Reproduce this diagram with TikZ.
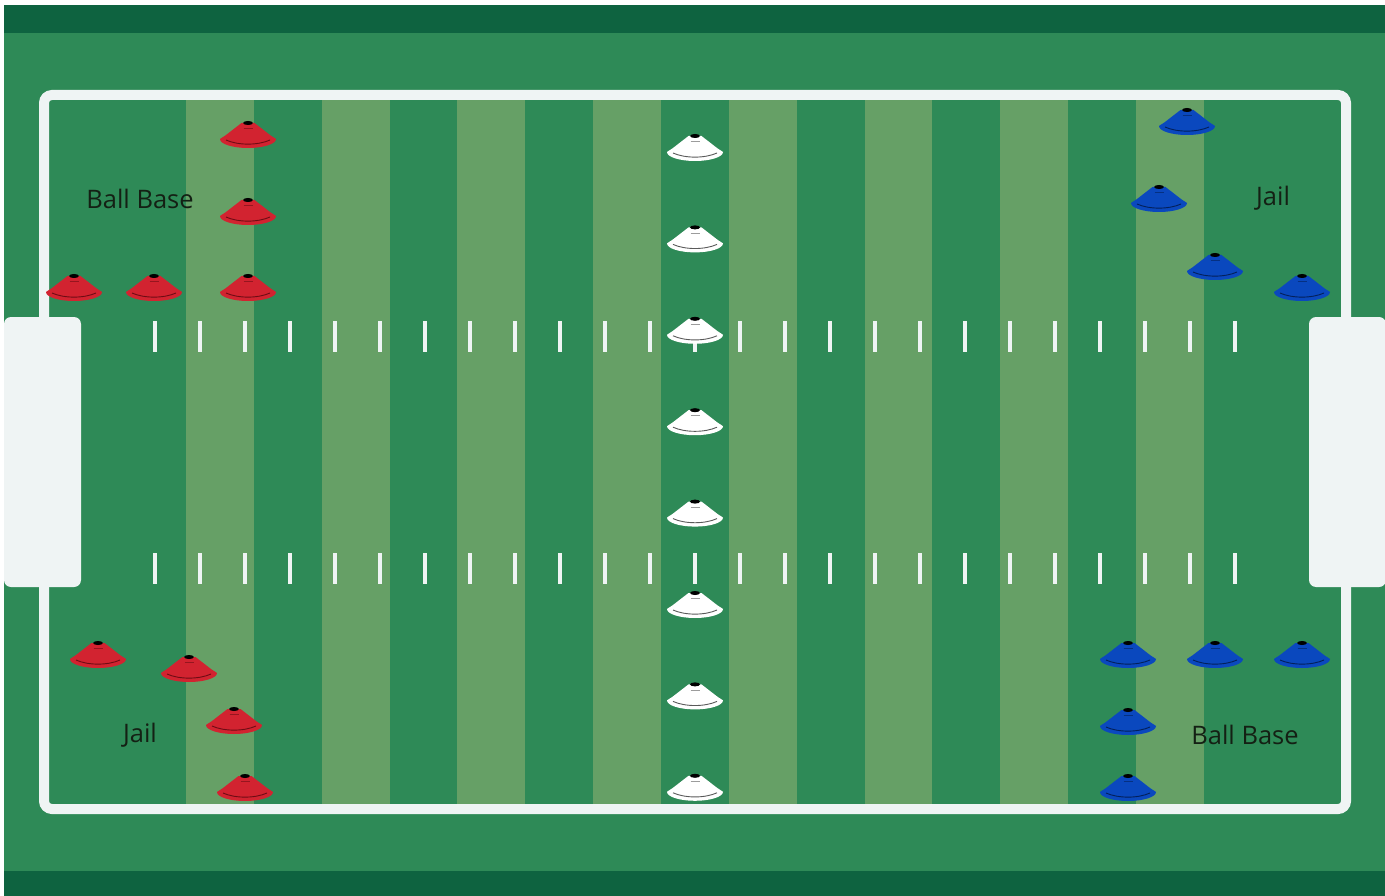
\documentclass[tikz,border=0pt]{standalone}
\usepackage{fontspec}
\setmainfont{Open Sans}
\definecolor{bandgreen}{HTML}{0E6340}
\definecolor{fieldgreen}{HTML}{2E8A57}
\definecolor{stripegreen}{HTML}{66A066}
\definecolor{chalk}{HTML}{EFF4F4}
\definecolor{conered}{HTML}{D22330}
\definecolor{conereddark}{HTML}{6E0C14}
\definecolor{coneblue}{HTML}{0A48BE}
\definecolor{conebluedark}{HTML}{03205A}
\definecolor{conewhite}{HTML}{FFFFFF}
\definecolor{conewhitedark}{HTML}{5A5A5A}
\definecolor{labeltext}{HTML}{142014}
\begin{document}
\begin{tikzpicture}[x=1pt,y=-1pt,
  hashmark/.style={draw=chalk, line width=4.5pt},
  fieldlabel/.style={font=\fontsize{25.5}{30}\selectfont, text=labeltext, inner sep=0pt},
  goalbox/.style={fill=chalk, rounded corners=7pt, inner sep=0pt, minimum width=77pt, minimum height=270pt},
  pics/fieldcone/.style 2 args={code={
     \fill[#1] (-6.5,-12) -- (6.5,-12) -- (22,0) .. controls (25,2.2) and (27,3) .. (28,4)
        arc[start angle=0,end angle=180,x radius=28,y radius=9]
        .. controls (-27,3) and (-25,2.2) .. (-22,0) -- cycle;
     \fill[black] (0,-12) ellipse[x radius=5,y radius=2];
     \draw[#2, line width=0.9pt] (-22,5) .. controls (-10,10.5) and (10,10.5) .. (22,5);
     \draw[#2, line width=0.7pt, opacity=0.6] (-4.5,-6.5) -- (4.5,-6.5);
  }}]
\useasboundingbox (0,0) rectangle (1385,896);
\fill[white] (0,0) rectangle (1385,896);
\fill[fieldgreen] (4,5) rectangle (1385,896);
\fill[bandgreen] (4,5) rectangle (1385,33);
\fill[bandgreen] (4,871) rectangle (1385,896);
% stripes
\foreach \i in {0,2,...,14}
  \fill[stripegreen] ({186+67.85*\i},99) rectangle ({186+67.85*(\i+1)},805);
% hash marks
\foreach \k in {0,...,24} {
  \draw[hashmark] ({155+45*\k},321) -- ({155+45*\k},352);
  \draw[hashmark] ({155+45*\k},553) -- ({155+45*\k},584);
}
% boundary
\draw[chalk, line width=10pt, rounded corners=8pt] (44,95) rectangle (1346,809);
% goal boxes
\node[goalbox] (goalL) at (42.5,452) {};
\node[goalbox] (goalR) at (1347.5,452) {};
% red cones
\pic (r1) at (248,135) {fieldcone={conered}{conereddark}};
\pic (r2) at (248,212) {fieldcone={conered}{conereddark}};
\pic (r3) at (74,288) {fieldcone={conered}{conereddark}};
\pic (r4) at (154,288) {fieldcone={conered}{conereddark}};
\pic (r5) at (248,288) {fieldcone={conered}{conereddark}};
\pic (r6) at (98,655) {fieldcone={conered}{conereddark}};
\pic (r7) at (189,669) {fieldcone={conered}{conereddark}};
\pic (r8) at (234,721) {fieldcone={conered}{conereddark}};
\pic (r9) at (245,788) {fieldcone={conered}{conereddark}};
% blue cones
\pic (b1) at (1187,122) {fieldcone={coneblue}{conebluedark}};
\pic (b2) at (1159,199) {fieldcone={coneblue}{conebluedark}};
\pic (b3) at (1215,267) {fieldcone={coneblue}{conebluedark}};
\pic (b4) at (1302,288) {fieldcone={coneblue}{conebluedark}};
\pic (b5) at (1128,655) {fieldcone={coneblue}{conebluedark}};
\pic (b6) at (1215,655) {fieldcone={coneblue}{conebluedark}};
\pic (b7) at (1302,655) {fieldcone={coneblue}{conebluedark}};
\pic (b8) at (1128,722) {fieldcone={coneblue}{conebluedark}};
\pic (b9) at (1128,788) {fieldcone={coneblue}{conebluedark}};
% white cones
\foreach \k in {0,...,7}
  \pic (w\k) at (695,{148+91.4*\k}) {fieldcone={conewhite}{conewhitedark}};
% labels
\node[fieldlabel] (ballbaseL) at (140,199) {Ball Base};
\node[fieldlabel] (jailR) at (1273,198) {Jail};
\node[fieldlabel] (jailL) at (140,735) {Jail};
\node[fieldlabel] (ballbaseR) at (1245,735) {Ball Base};
\end{tikzpicture}
\end{document}
